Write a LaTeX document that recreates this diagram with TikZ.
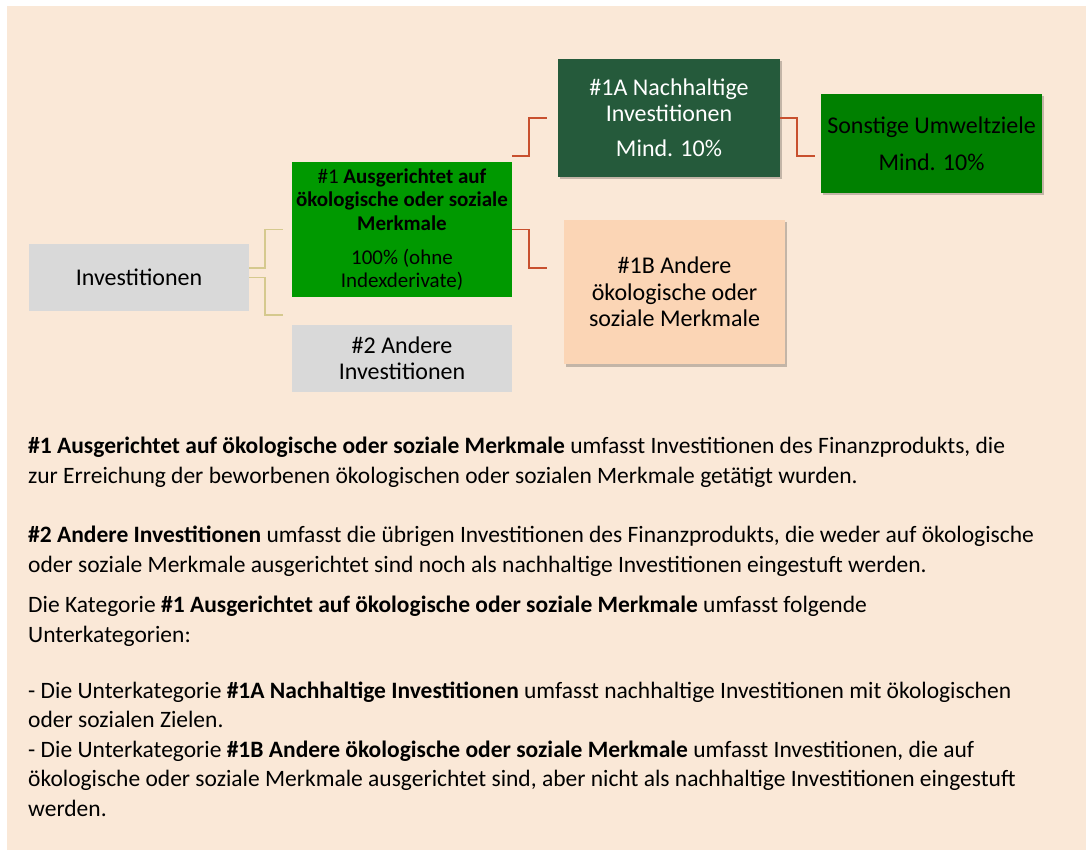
\documentclass[tikz,border=0pt]{standalone}
\usepackage{fontspec}
\setmainfont{Carlito}
\usetikzlibrary{shadows}
\definecolor{peach}{HTML}{FAE8D7}
\definecolor{boxgrey}{HTML}{D9D9D9}
\definecolor{greenone}{HTML}{009900}
\definecolor{greenonea}{HTML}{255A3B}
\definecolor{greenenv}{HTML}{008000}
\definecolor{peachone}{HTML}{FBD5B5}
\definecolor{linkyellow}{HTML}{D5C98E}
\definecolor{linkred}{HTML}{C8502E}
\tikzset{
  box/.style={inner sep=0pt, align=center, font=\fontsize{24}{26.5}\selectfont},
  shadowed/.style={drop shadow={shadow xshift=1.5pt, shadow yshift=-2.5pt, opacity=0.22, fill=black}},
  yline/.style={draw=linkyellow, line width=1.5pt},
  rline/.style={draw=linkred, line width=1.6pt},
  para/.style={anchor=base west, inner sep=0pt, align=left, font=\fontsize{23.5}{29.6}\selectfont},
}
\begin{document}
\begin{tikzpicture}[x=1pt, y=-1pt]
  \useasboundingbox (0,0) rectangle (1086,850);
  \fill[peach] (7,6) rectangle (1086,850);
  % boxes
  \node[box, fill=boxgrey, minimum width=220pt, minimum height=67pt] (inv) at (139,277.5) {Investitionen};
  \node[box, fill=greenone, minimum width=220pt, minimum height=135pt, font=\fontsize{21}{23.5}\selectfont] (b1) at (402,229.5)
    {\#1 \textbf{Ausgerichtet auf}\\\textbf{ökologische oder soziale}\\\textbf{Merkmale}\\[10.5pt]100\% (ohne\\Indexderivate)};
  \node[box, fill=boxgrey, minimum width=220pt, minimum height=67pt] (b2) at (402,358.5) {\#2 Andere\\Investitionen};
  \node[box, shadowed, fill=greenonea, text=white, minimum width=222pt, minimum height=118pt] (b1a) at (669,118)
    {\#1A Nachhaltige\\Investitionen\\[8.5pt]Mind. 10\%};
  \node[box, shadowed, fill=greenenv, minimum width=221pt, minimum height=99pt] (env) at (931.5,143.5)
    {Sonstige Umweltziele\\[10.5pt]Mind. 10\%};
  \node[box, shadowed, fill=peachone, minimum width=221pt, minimum height=144pt] (b1b) at (674.5,292)
    {\#1B Andere\\ökologische oder\\soziale Merkmale};
  % connectors
  \coordinate (e2) at (283,315);
  \coordinate (e1b) at (547,268);
  \begin{scope}
    \draw[yline] ([yshift=9.5pt]inv.east) -- ++(16,0) |- ([xshift=-9pt]b1.west);
    \draw[yline] (inv.east) -- ++(16,0) |- (e2);
    \draw[rline] ([yshift=6pt]b1.north east) -- ++(17,0) |- ([xshift=-11pt]b1a.west);
    \draw[rline] (b1.east) -- ++(17,0) |- (e1b);
    \draw[rline] (b1a.east) -- ++(17,0) |- ([xshift=-6pt, yshift=-12.5pt]env.west);
  \end{scope}
  % explanations (placed at the baseline of their last line)
  \node[para] (p1) at (28,483)
    {\textbf{\#1 Ausgerichtet auf ökologische oder soziale Merkmale} umfasst Investitionen des Finanzprodukts, die\\
     zur Erreichung der beworbenen ökologischen oder sozialen Merkmale getätigt wurden.};
  \node[para] (p2) at (28,572)
    {\textbf{\#2 Andere Investitionen} umfasst die übrigen Investitionen des Finanzprodukts, die weder auf ökologische\\
     oder soziale Merkmale ausgerichtet sind noch als nachhaltige Investitionen eingestuft werden.};
  \node[para] (p3) at (28,642)
    {Die Kategorie \textbf{\#1 Ausgerichtet auf ökologische oder soziale Merkmale} umfasst folgende\\
     Unterkategorien:};
  \node[para] (p4) at (28,816.5)
    {- Die Unterkategorie \textbf{\#1A Nachhaltige Investitionen} umfasst nachhaltige Investitionen mit ökologischen\\
     oder sozialen Zielen.\\
     - Die Unterkategorie \textbf{\#1B Andere ökologische oder soziale Merkmale} umfasst Investitionen, die auf\\
     ökologische oder soziale Merkmale ausgerichtet sind, aber nicht als nachhaltige Investitionen eingestuft\\
     werden.};
\end{tikzpicture}
\end{document}
